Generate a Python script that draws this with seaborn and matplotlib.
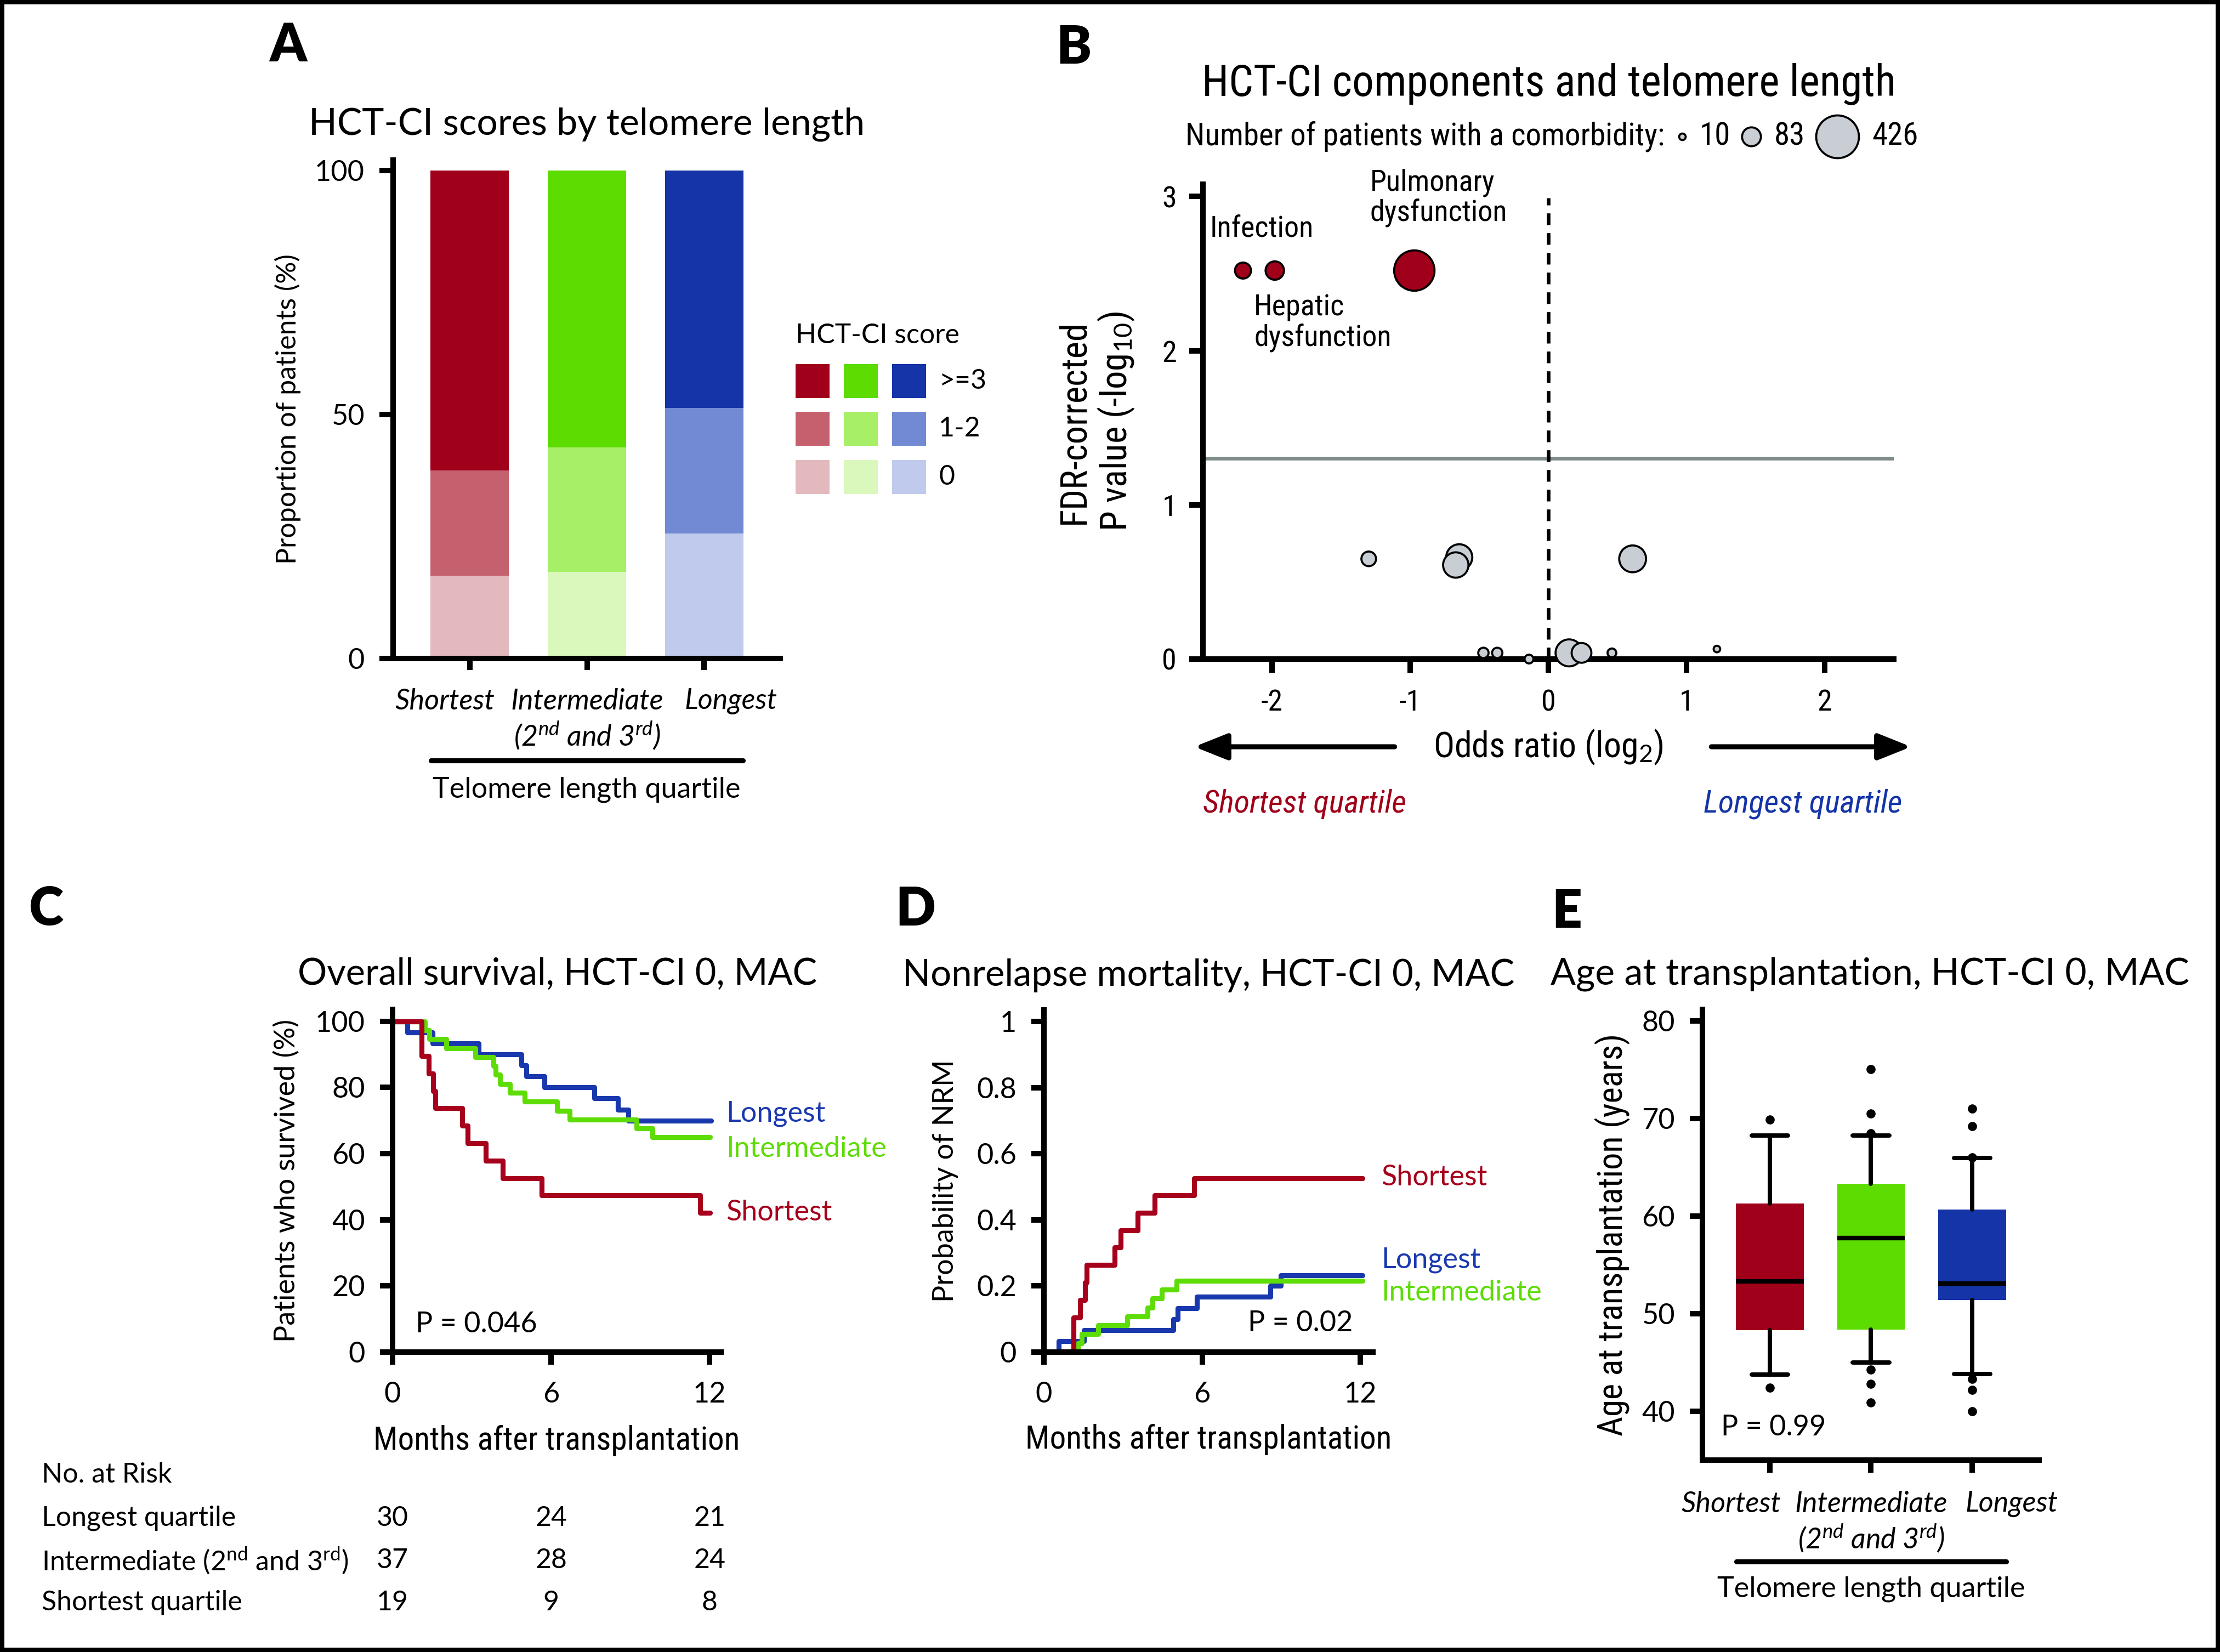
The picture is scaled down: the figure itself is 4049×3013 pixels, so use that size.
import numpy as np
import pandas as pd
import matplotlib
matplotlib.use("Agg")
import matplotlib.pyplot as plt
import matplotlib.transforms as mtransforms
from matplotlib import font_manager
from matplotlib.lines import Line2D
from matplotlib.patches import Rectangle, FancyArrowPatch
import seaborn as sns

# ---------------- data ----------------
quartiles = ["Shortest", "Intermediate", "Longest"]
quartile_ticklabels = ["Shortest", "Intermediate\n(2$^{nd}$ and 3$^{rd}$)", "Longest"]

# A: HCT-CI score by telomere quartile (% of patients)
hctci_0 = [17.0, 17.7, 25.6]
hctci_1_2 = [21.5, 25.5, 25.7]
hctci_ge3 = [61.5, 56.8, 48.7]
score_labels = [">=3", "1-2", "0"]

# B: HCT-CI components (log2 OR, -log10 FDR p, number of patients)
comp_log2_or = [-2.21, -1.98, -0.97, -1.30, -0.645, -0.67, 0.61,
                -0.47, -0.37, -0.14, 0.15, 0.24, 0.46, 1.22]
comp_neglog_p = [2.52, 2.52, 2.52, 0.65, 0.66, 0.61, 0.65,
                 0.04, 0.04, 0.0, 0.04, 0.04, 0.04, 0.065]
comp_n = [60, 79, 380, 50, 159, 150, 168, 25, 25, 18, 170, 91, 18, 9]
size_legend_n = [10, 83, 426]
fdr_cutoff = 1.30

# C: overall survival (%), HCT-CI 0, MAC
os_long_t = [0, 0.55, 1.51, 3.26, 4.87, 5.06, 5.75, 7.64, 8.52, 8.92, 12.05]
os_long_s = [100, 96.7, 93.3, 90.0, 86.7, 83.3, 80.0, 76.7, 73.3, 70.0, 70.0]
os_int_t = [0, 1.23, 1.40, 2.03, 3.14, 3.82, 3.90, 4.07, 4.45, 5.00, 6.23, 6.71, 9.24, 9.83, 12.02]
os_int_s = [100, 97.3, 94.6, 91.9, 89.2, 86.5, 83.8, 81.1, 78.4, 75.7, 73.0, 70.3, 67.6, 64.9, 64.9]
os_short_t = [0, 1.10, 1.36, 1.53, 1.61, 2.64, 2.84, 3.53, 4.17, 5.65, 11.65, 12.02]
os_short_s = [100, 89.5, 84.2, 78.9, 73.7, 68.4, 63.2, 57.9, 52.6, 47.4, 42.1, 42.1]

risk_months = [0, 6, 12]
risk_rows = ["Longest quartile", "Intermediate (2$^{\\rm nd}$ and 3$^{\\rm rd}$)", "Shortest quartile"]
risk_long = [30, 24, 21]
risk_int = [37, 28, 24]
risk_short = [19, 9, 8]

# D: cumulative incidence of NRM
nrm_long_t = [0, 0.57, 1.52, 4.90, 5.08, 5.80, 8.58, 8.98, 12.08]
nrm_long_p = [0, 0.033, 0.067, 0.100, 0.133, 0.167, 0.200, 0.233, 0.233]
nrm_int_t = [0, 1.28, 1.44, 2.05, 3.15, 3.93, 4.11, 4.46, 5.02, 12.08]
nrm_int_p = [0, 0.027, 0.054, 0.081, 0.108, 0.135, 0.162, 0.189, 0.216, 0.216]
nrm_short_t = [0, 1.13, 1.37, 1.56, 1.62, 2.69, 2.90, 3.56, 4.20, 5.70, 12.08]
nrm_short_p = [0, 0.105, 0.158, 0.211, 0.263, 0.316, 0.368, 0.421, 0.474, 0.526, 0.526]

# E: age at transplantation (box stats, whiskers 10-90th pct)
age_q1 = [48.3, 48.4, 51.4]
age_med = [53.35, 57.75, 53.1]
age_q3 = [61.3, 63.3, 60.7]
age_whislo = [43.75, 45.0, 43.8]
age_whishi = [68.25, 68.25, 65.95]
age_fliers = [[69.9, 42.4],
              [75.1, 70.5, 68.5, 44.25, 42.8, 40.9],
              [71.0, 69.25, 66.0, 43.3, 42.2, 40.0]]

# ---------------- colours ----------------
RED, GREEN, BLUE = "#A1001A", "#5CDC00", "#1434A8"
pal_ge3 = [RED, GREEN, BLUE]
pal_12 = ["#C5616E", "#A6EF66", "#718AD3"]
pal_0 = ["#E3B9BE", "#DBF8BC", "#C0CAEC"]
LINE_RED, LINE_GREEN, LINE_BLUE = "#A6001C", "#5EDC06", "#1A38AE"
GRAY_PT = "#C9CED4"


# ---------------- fonts ----------------
def have_font(fam):
    try:
        font_manager.findfont(font_manager.FontProperties(family=fam), fallback_to_default=False)
        return True
    except ValueError:
        return False


MAIN = next((f for f in ["Lato", "Noto Sans", "DejaVu Sans"] if have_font(f)), "DejaVu Sans")
COND = None
for f in ["Liberation Sans Narrow", "Roboto Condensed", "Open Sans Condensed"]:
    if have_font(f):
        COND = dict(family=f)
        break
if COND is None:
    p = font_manager.findfont(font_manager.FontProperties(family="DejaVu Sans", stretch="condensed"))
    if "Condensed" in p:
        COND = dict(family="DejaVu Sans", stretch="condensed")
CSCALE = 1.0
if COND is None:
    COND = dict(family=MAIN)
    CSCALE = 0.86

sns.set_theme(style="ticks")
plt.rcParams.update({
    "font.family": [MAIN, "DejaVu Sans"],
    "axes.unicode_minus": False,
    "mathtext.fontset": "custom",
    "mathtext.rm": MAIN,
    "mathtext.it": MAIN + ":italic",
    "mathtext.bf": MAIN + ":bold",
    "axes.edgecolor": "black",
    "axes.linewidth": 2.4,
    "xtick.color": "black",
    "ytick.color": "black",
    "text.color": "black",
    "axes.labelcolor": "black",
})

W, H, DPI = 4049, 3013, 300
fig = plt.figure(figsize=(W / DPI, H / DPI), dpi=DPI)
fig.patch.set_facecolor("white")


def px_axes(x0, y0, x1, y1):
    return fig.add_axes([x0 / W, 1 - y1 / H, (x1 - x0) / W, (y1 - y0) / H])


def ftext(x, y, s, **kw):
    kw.setdefault("va", "center")
    return fig.text(x / W, 1 - y / H, s, **kw)


def fline(x0, x1, y, lw=2.2):
    fig.add_artist(Line2D([x0 / W, x1 / W], [1 - y / H, 1 - y / H],
                          transform=fig.transFigure, color="black", lw=lw))


def style(ax, ylen=5.5, xlen=5.5, xpad=7.5, ypad=6.5, size=12.5):
    sns.despine(ax=ax)
    ax.tick_params(axis="y", length=ylen, width=2.4, pad=ypad, labelsize=size)
    ax.tick_params(axis="x", length=xlen, width=2.4, pad=xpad, labelsize=size)
    ax.set_facecolor("none")


def spread_xlabels(ax, dx_px):
    # outer category labels sit a little away from their ticks, as in the reference
    for lbl, dx in zip(ax.get_xticklabels(), dx_px):
        lbl.set_transform(lbl.get_transform() +
                          mtransforms.ScaledTranslation(dx / DPI, 0, fig.dpi_scale_trans))


TITLE = 16.3
LETTER = 23
LAB = 12.5

# ================= A =================
ax_a = px_axes(717, 292, 1423, 1201)
cum_mid = np.add(hctci_0, hctci_1_2)
cum_top = cum_mid + np.array(hctci_ge3)
for heights, pal in [(cum_top, pal_ge3), (cum_mid, pal_12), (hctci_0, pal_0)]:
    sns.barplot(x=quartiles, y=heights, hue=quartiles, order=quartiles, hue_order=quartiles,
                palette=pal, saturation=1, width=0.67, errorbar=None, legend=False,
                linewidth=0, ax=ax_a)
ax_a.set_xlim(-0.655, 2.65)
ax_a.set_ylim(0, 102.1)
ax_a.set_yticks([0, 50, 100])
ax_a.set_xticks([0, 1, 2], labels=quartile_ticklabels, fontstyle="italic")
style(ax_a, ylen=6, xlen=5, xpad=8)
spread_xlabels(ax_a, [-45, 0, 49])
ax_a.set_xlabel("")
ax_a.set_ylabel("Proportion of patients (%)", fontsize=12, va="center")
ax_a.yaxis.set_label_coords(-0.272, 0.5)
fline(786, 1355, 1387)
ftext(1070, 1440, "Telomere length quartile", ha="center", fontsize=LAB)
ftext(1070, 227, "HCT-CI scores by telomere length", ha="center", fontsize=TITLE)
ftext(525, 84, "A", ha="center", fontsize=LETTER, fontweight="heavy")

# legend for A (3 x 3 grid of swatches)
ftext(1451, 612, "HCT-CI score", ha="left", fontsize=12)
col_x = [1451, 1539, 1627]
row_y = [664, 751, 839]
for r, pal in enumerate([pal_ge3, pal_12, pal_0]):
    for c, colr in enumerate(pal):
        fig.add_artist(Rectangle((col_x[c] / W, 1 - (row_y[r] + 62) / H), 62 / W, 62 / H,
                                 transform=fig.transFigure, color=colr, lw=0))
    ftext(1712, row_y[r] + 31, score_labels[r], ha="left", fontsize=12)

# ================= B =================
ax_b = px_axes(2194, 336, 3454, 1202)
k_area = 350 / 426.0
comp_df = pd.DataFrame({"lor": comp_log2_or, "nlp": comp_neglog_p, "n": comp_n})
comp_df["sig"] = np.where(comp_df["nlp"] > fdr_cutoff, "sig", "ns")
ax_b.axhline(fdr_cutoff, color="#7F8B8B", lw=1.6, zorder=1)
ax_b.plot([0, 0], [0, 2.99], color="black", lw=1.6, dashes=(3.2, 2.2), zorder=1.5)
sns.scatterplot(data=comp_df, x="lor", y="nlp", hue="sig", palette={"sig": RED, "ns": GRAY_PT},
                size="n", sizes=(10 * k_area, 426 * k_area), size_norm=(10, 426),
                edgecolor="black", linewidth=0.9, alpha=1, legend=False, clip_on=False,
                zorder=3, ax=ax_b)
ax_b.set_xlim(-2.5, 2.5)
ax_b.set_ylim(0, 3.08)
ax_b.set_xticks([-2, -1, 0, 1, 2])
ax_b.set_yticks([0, 1, 2, 3])
style(ax_b, ylen=6, xlen=6, xpad=7, ypad=5.5, size=13 * CSCALE)
for lbl in ax_b.get_xticklabels() + ax_b.get_yticklabels():
    lbl.set(**COND)
ax_b.set_xlabel("Odds ratio (log$_2$)", fontsize=15.3 * CSCALE, va="center", **COND)
ax_b.xaxis.set_label_coords(0.5, (1202 - 1362) / 866)
ax_b.set_ylabel("FDR-corrected\nP value (-log$_{10}$)", fontsize=16 * CSCALE, va="center",
                linespacing=1.15, **COND)
ax_b.yaxis.set_label_coords(-0.154, 0.5)
ax_b.text(-2.45, 2.79, "Infection", fontsize=13 * CSCALE, va="center", ha="left", **COND)
ax_b.text(-1.29, 2.99, "Pulmonary\ndysfunction", fontsize=13 * CSCALE, va="center", ha="left",
          linespacing=1.1, **COND)
ax_b.text(-2.13, 2.18, "Hepatic\ndysfunction", fontsize=13 * CSCALE, va="center", ha="left",
          linespacing=1.1, **COND)
for x0, x1 in [(2552, 2170), (3113, 3494)]:
    fig.add_artist(FancyArrowPatch((x0 / W, 1 - 1362 / H), (x1 / W, 1 - 1362 / H),
                                   transform=fig.transFigure,
                                   arrowstyle="-|>,head_length=0.45,head_width=0.18",
                                   mutation_scale=27, color="black", lw=2.2))
ftext(2379, 1466, "Shortest quartile", ha="center", color=RED, fontsize=14 * CSCALE,
      style="italic", **COND)
ftext(3288, 1466, "Longest quartile", ha="center", color=BLUE, fontsize=14 * CSCALE,
      style="italic", **COND)
ftext(2825, 153, "HCT-CI components and telomere length", ha="center",
      fontsize=19 * CSCALE, **COND)
ftext(3036, 249, "Number of patients with a comorbidity:", ha="right",
      fontsize=13.7 * CSCALE, **COND)
# bubble-size key
for n, cx, tx in zip(size_legend_n, [3068, 3194, 3351], [3099, 3236, 3414]):
    fig.add_artist(Line2D([cx / W], [1 - 249 / H], transform=fig.transFigure, ls="",
                          marker="o", markersize=np.sqrt(n * k_area),
                          markerfacecolor=GRAY_PT, markeredgecolor="black",
                          markeredgewidth=0.9))
    ftext(tx, 249, str(n), ha="left", fontsize=13.7 * CSCALE, **COND)
ftext(1958, 87, "B", ha="center", fontsize=LETTER, fontweight="heavy")

# ================= C =================
ax_c = px_axes(716, 1841, 1315, 2466)
os_df = pd.concat([
    pd.DataFrame({"month": os_long_t, "surv": os_long_s, "grp": "Longest"}),
    pd.DataFrame({"month": os_int_t, "surv": os_int_s, "grp": "Intermediate"}),
    pd.DataFrame({"month": os_short_t, "surv": os_short_s, "grp": "Shortest"}),
])
sns.lineplot(data=os_df, x="month", y="surv", hue="grp",
             hue_order=["Longest", "Intermediate", "Shortest"],
             palette=[LINE_BLUE, LINE_GREEN, LINE_RED], estimator=None,
             drawstyle="steps-post", linewidth=2.2, legend=False, ax=ax_c)
ax_c.set_xlim(0, 12.43)
ax_c.set_ylim(0, 103.6)
ax_c.set_xticks([0, 6, 12])
ax_c.set_yticks([0, 20, 40, 60, 80, 100])
style(ax_c)
ax_c.set_xlabel("Months after transplantation", fontsize=14.2 * CSCALE, va="center", **COND)
ax_c.xaxis.set_label_coords(0.5, -(2627 - 2466) / 625)
ax_c.set_ylabel("Patients who survived (%)", fontsize=LAB, va="center")
ax_c.yaxis.set_label_coords((523 - 716) / 599, 0.5)
ftext(1324, 2031, "Longest", ha="left", color=LINE_BLUE, fontsize=12.5)
ftext(1324, 2096, "Intermediate", ha="left", color=LINE_GREEN, fontsize=12.5)
ftext(1324, 2211, "Shortest", ha="left", color=LINE_RED, fontsize=12.5)
ftext(758, 2416, "P = 0.046", ha="left", fontsize=12.5)
ftext(1017, 1777, "Overall survival, HCT-CI 0, MAC", ha="center", fontsize=16)
ftext(84, 1659, "C", ha="center", fontsize=LETTER, fontweight="heavy")

# risk table aligned with the month axis of C
blend = mtransforms.blended_transform_factory(ax_c.transData, fig.transFigure)
ftext(76, 2690, "No. at Risk", ha="left", fontsize=12)
for row_y_px, name, counts in zip([2769, 2846, 2923], risk_rows,
                                  [risk_long, risk_int, risk_short]):
    ftext(76, row_y_px, name, ha="left", fontsize=12)
    for m, cnt in zip(risk_months, counts):
        ax_c.text(m, 1 - row_y_px / H, str(cnt), transform=blend, ha="center",
                  va="center", fontsize=12, clip_on=False)

# ================= D =================
ax_d = px_axes(1904, 1842, 2504, 2466)
nrm_df = pd.concat([
    pd.DataFrame({"month": nrm_long_t, "p": nrm_long_p, "grp": "Longest"}),
    pd.DataFrame({"month": nrm_int_t, "p": nrm_int_p, "grp": "Intermediate"}),
    pd.DataFrame({"month": nrm_short_t, "p": nrm_short_p, "grp": "Shortest"}),
])
sns.lineplot(data=nrm_df, x="month", y="p", hue="grp",
             hue_order=["Longest", "Intermediate", "Shortest"],
             palette=[LINE_BLUE, LINE_GREEN, LINE_RED], estimator=None,
             drawstyle="steps-post", linewidth=2.2, legend=False, ax=ax_d)
ax_d.set_xlim(0, 12.47)
ax_d.set_ylim(0, 1.035)
ax_d.set_xticks([0, 6, 12])
ax_d.set_yticks([0, 0.2, 0.4, 0.6, 0.8, 1.0], labels=["0", "0.2", "0.4", "0.6", "0.8", "1"])
style(ax_d)
ax_d.set_xlabel("Months after transplantation", fontsize=14.2 * CSCALE, va="center", **COND)
ax_d.xaxis.set_label_coords(0.5, -(2626 - 2466) / 624)
ax_d.set_ylabel("Probability of NRM", fontsize=LAB, va="center")
ax_d.yaxis.set_label_coords((1724 - 1904) / 600, 0.5)
ftext(2519, 2147, "Shortest", ha="left", color=LINE_RED, fontsize=12.5)
ftext(2519, 2298, "Longest", ha="left", color=LINE_BLUE, fontsize=12.5)
ftext(2519, 2358, "Intermediate", ha="left", color=LINE_GREEN, fontsize=12.5)
ftext(2276, 2414, "P = 0.02", ha="left", fontsize=12.5)
ftext(2204, 1779, "Nonrelapse mortality, HCT-CI 0, MAC", ha="center", fontsize=16.1)
ftext(1670, 1660, "D", ha="center", fontsize=LETTER, fontweight="heavy")

# ================= E =================
ax_e = px_axes(3105, 1841, 3719, 2663)
box_stats = [dict(med=m, q1=a, q3=b, whislo=lo, whishi=hi, fliers=f, label=q)
             for q, m, a, b, lo, hi, f in zip(quartiles, age_med, age_q1, age_q3,
                                               age_whislo, age_whishi, age_fliers)]
bp = ax_e.bxp(box_stats, positions=[0, 1, 2], widths=0.668, capwidths=0.36,
              patch_artist=True, showfliers=True,
              boxprops=dict(linewidth=0),
              medianprops=dict(color="black", linewidth=2.0, solid_capstyle="butt"),
              whiskerprops=dict(color="black", linewidth=1.9),
              capprops=dict(color="black", linewidth=1.9),
              flierprops=dict(marker="o", markerfacecolor="black", markeredgecolor="black",
                              markersize=3.0))
for patch, colr in zip(bp["boxes"], pal_ge3):
    patch.set_facecolor(colr)
    patch.set_edgecolor(colr)
ax_e.set_xlim(-0.666, 2.661)
ax_e.set_ylim(35, 81.2)
ax_e.set_yticks([40, 50, 60, 70, 80])
ax_e.set_xticks([0, 1, 2], labels=quartile_ticklabels, fontstyle="italic")
style(ax_e, xpad=8)
spread_xlabels(ax_e, [-70, 0, 72])
ax_e.set_ylabel("Age at transplantation (years)", fontsize=15 * CSCALE, va="center", **COND)
ax_e.yaxis.set_label_coords((2941 - 3105) / 614, 0.5)
fline(3167, 3659, 2848)
ftext(3413, 2898, "Telomere length quartile", ha="center", fontsize=LAB)
ftext(3139, 2603, "P = 0.99", ha="left", fontsize=12.5)
ftext(3411, 1777, "Age at transplantation, HCT-CI 0, MAC", ha="center", fontsize=TITLE)
ftext(2858, 1663, "E", ha="center", fontsize=LETTER, fontweight="heavy")

# outer frame
fig.add_artist(Rectangle((0, 0), 1, 1, transform=fig.transFigure, fill=False,
                         edgecolor="black", lw=3.8))

fig.savefig("out.png", dpi=DPI, facecolor="white")
